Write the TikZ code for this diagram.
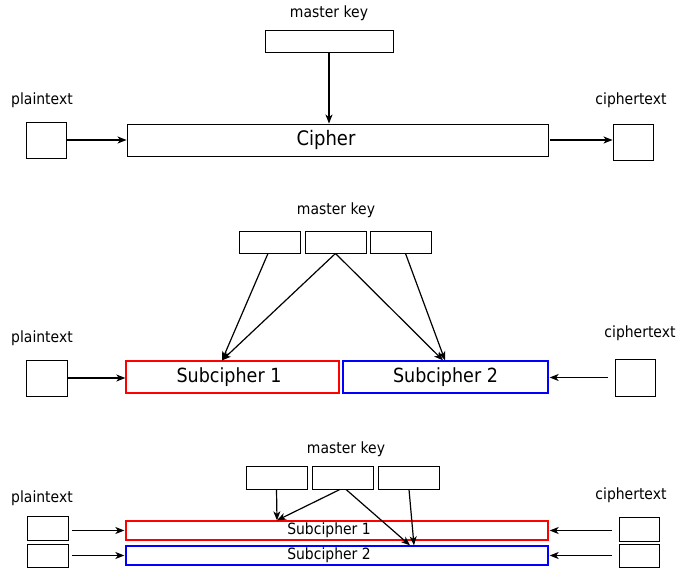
\documentclass[tikz,border=0pt]{standalone}
\usepackage{fontspec}
\setmainfont{DejaVu Sans}[FakeStretch=0.9]
\usetikzlibrary{arrows.meta}
\tikzset{
  lbl/.style={inner sep=0pt, font=\fontsize{15.5}{17}\selectfont},
  bx/.style={draw=black, line width=0.9pt, inner sep=0pt, minimum width=#1},
  bx/.default=40pt,
  redbx/.style={draw=red, line width=1.3pt, inner sep=0pt},
  bluebx/.style={draw=blue, line width=1.3pt, inner sep=0pt},
  arr/.style={line width=1.2pt, -{Stealth[length=9pt,width=7pt,inset=2.5pt]}},
}
\begin{document}
\begin{tikzpicture}[x=1pt,y=-1pt]
\useasboundingbox (0,0) rectangle (678,571);
% ---------- top ----------
\node[lbl] (mk1) at (329,13) {master key};
\node[bx=128pt, minimum height=22pt] (key1) at (329,41) {};
\node[lbl] (ptl1) at (42,100) {plaintext};
\node[bx=40pt, minimum height=36pt] (pt1) at (46,140) {};
\node[draw, line width=0.9pt, inner sep=0pt, minimum width=421pt, minimum height=32pt, font=\fontsize{20}{22}\selectfont] (cipher) at (337.5,140) {Cipher\hspace*{23pt}};
\node[lbl] (ctl1) at (631,100) {ciphertext};
\node[bx=40pt, minimum height=36pt] (ct1) at (633,142) {};
\draw[arr] (key1.south) -- (key1.south |- cipher.north);
\draw[arr] (pt1.east) -- (pt1.east -| cipher.west);
\draw[arr, shorten <=2pt] (cipher.east) -- (cipher.east -| ct1.west);
% ---------- middle ----------
\node[lbl] (mk2) at (336,210) {master key};
\node[bx=61pt, minimum height=22pt] (k2a) at (269.5,242) {};
\node[bx=61pt, minimum height=22pt] (k2b) at (335.5,242) {};
\node[bx=61pt, minimum height=22pt] (k2c) at (400.5,242) {};
\node[redbx, minimum width=213pt, minimum height=32pt, font=\fontsize{19.5}{21}\selectfont] (sc1) at (232.5,377) {Subcipher 1\hspace*{7pt}};
\node[bluebx, minimum width=205pt, minimum height=32pt, font=\fontsize{19.5}{21}\selectfont] (sc2) at (445.5,377) {Subcipher 2};
\node[lbl] (ptl2) at (42,338) {plaintext};
\node[bx=41pt, minimum height=36pt] (pt2) at (46.5,378) {};
\node[lbl] (ctl2) at (640,333) {ciphertext};
\node[bx=40pt, minimum height=37pt] (ct2) at (635,377.5) {};
\draw[arr] ([xshift=-1.5pt]k2a.south) -- ([xshift=-10.5pt]sc1.north);
\draw[arr] (k2b.south) -- ([xshift=-10.5pt]sc1.north);
\draw[arr] (k2b.south) -- ([xshift=-2.5pt]sc2.north);
\draw[arr] ([xshift=5pt]k2c.south) -- ([xshift=-0.5pt]sc2.north);
\draw[arr] (pt2.east) -- (pt2.east -| sc1.west);
\draw[arr, shorten <=7pt, shorten >=1pt] (ct2.west) -- (ct2.west -| sc2.east);
% ---------- bottom ----------
\node[lbl] (mk3) at (346,449) {master key};
\node[bx=61pt, minimum height=23pt] (k3a) at (276.5,477.5) {};
\node[bx=61pt, minimum height=23pt] (k3b) at (342.5,477.5) {};
\node[bx=61pt, minimum height=23pt] (k3c) at (408.5,477.5) {};
\node[redbx, minimum width=422pt, minimum height=19pt, font=\fontsize{15.5}{17}\selectfont] (sc1b) at (337,530.5) {Subcipher 1\hspace*{16pt}};
\node[bluebx, minimum width=422pt, minimum height=19pt, font=\fontsize{15.5}{17}\selectfont] (sc2b) at (337,555.5) {Subcipher 2\hspace*{16pt}};
\node[lbl] (ptl3) at (42,498) {plaintext};
\node[bx=41pt, minimum height=24pt] (pt3a) at (47.5,528) {};
\node[bx=41pt, minimum height=23pt] (pt3b) at (47.5,555.5) {};
\node[lbl] (ctl3) at (631,495) {ciphertext};
\node[bx=40pt, minimum height=24pt] (ct3a) at (639,529) {};
\node[bx=40pt, minimum height=23pt] (ct3b) at (639,555.5) {};
\draw[arr] (k3a.south) -- ([xshift=-60pt]sc1b.north);
\draw[arr] ([xshift=-2.5pt]k3b.south) -- ([xshift=-60pt]sc1b.north);
\draw[arr] ([xshift=3.5pt]k3b.south) -- ([xshift=73pt]sc2b.north);
\draw[arr] ([xshift=0.5pt]k3c.south) -- ([xshift=77pt]sc2b.north);
\draw[arr, shorten <=4pt, shorten >=1pt] (pt3a.east |- sc1b.west) -- (sc1b.west);
\draw[arr, shorten <=4pt, shorten >=1pt] (pt3b.east |- sc2b.west) -- (sc2b.west);
\draw[arr, shorten <=7pt, shorten >=1pt] (ct3a.west |- sc1b.east) -- (sc1b.east);
\draw[arr, shorten <=7pt, shorten >=1pt] (ct3b.west |- sc2b.east) -- (sc2b.east);
\end{tikzpicture}
\end{document}
